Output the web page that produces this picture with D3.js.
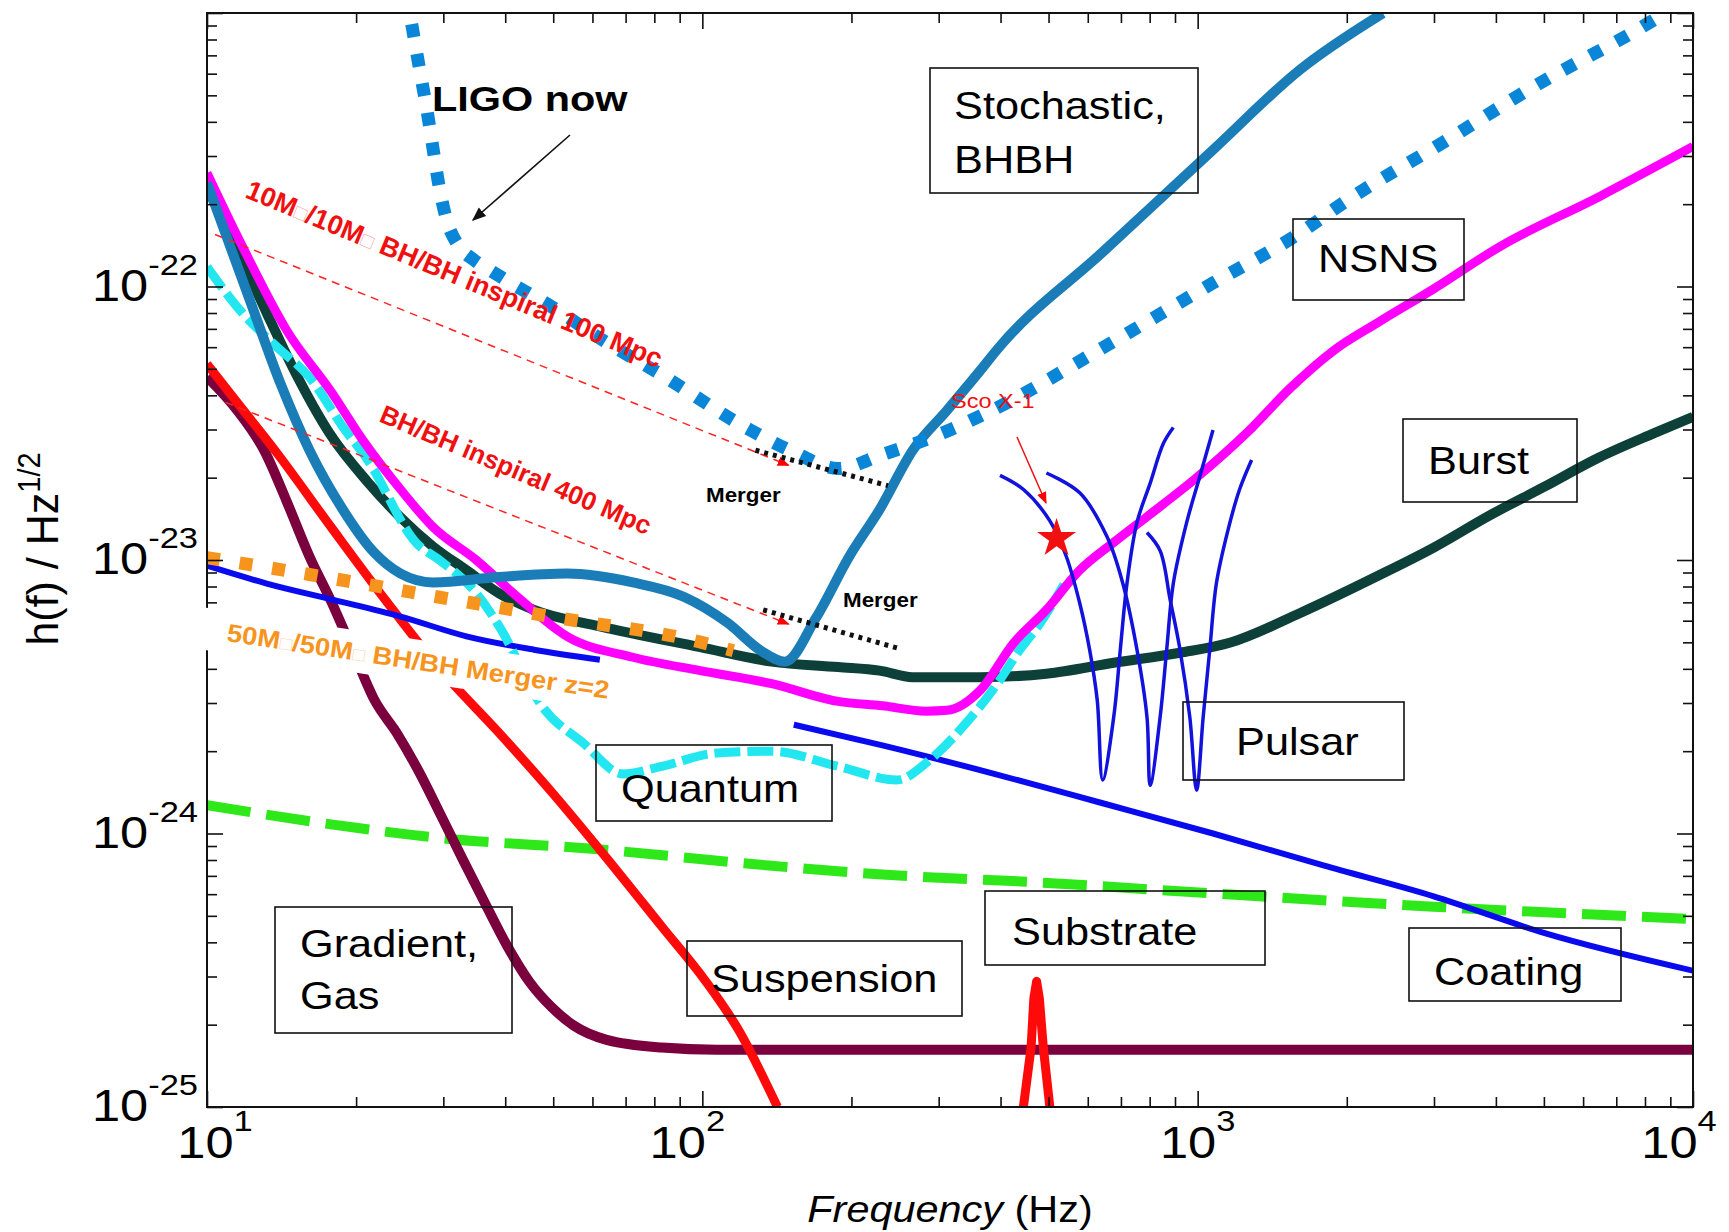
<!DOCTYPE html>
<html><head><meta charset="utf-8">
<script src="https://cdn.jsdelivr.net/npm/d3@7"></script>
<style>body{margin:0;background:#fff}svg{display:block}text{font-family:"Liberation Sans",Arial,sans-serif}</style>
</head><body><svg id="c" width="1729" height="1232"></svg>
<script>
// ---------------- DATA (frequency in Hz, strain in 1/sqrt(Hz)) ----------------
const ligoNow = [[25.9,9.1e-22],[26.8,6.39e-22],[27.8,4.42e-22],[28.6,3.19e-22],[29.5,2.26e-22],[30.5,1.74e-22],[32.1,1.42e-22],[34.6,1.25e-22],[37.2,1.15e-22],[41.4,1.02e-22],[47.1,8.93e-23],[53.3,7.77e-23],[59.3,6.82e-23],[82.8,4.75e-23],[124.8,2.99e-23],[153,2.48e-23],[188,2.16e-23],[231,2.43e-23],[298,2.86e-23],[385,3.53e-23],[644,5.98e-23],[1074,1.03e-22],[1610,1.57e-22],[1967,2.02e-22],[3186,3.43e-22],[4753,5.36e-22],[7925,8.93e-22],[8790,1e-21]];
const stochasticBHBH = [[10,2.39e-22],[12.2,8.93e-23],[14.05,4.45e-23],[16.1,2.52e-23],[18.8,1.53e-23],[21.6,1.08e-23],[24.6,8.92e-24],[28.6,8.28e-24],[38.9,8.67e-24],[53.3,8.92e-24],[72.4,8.28e-24],[91.7,7.34e-24],[112.6,5.88e-24],[131.3,4.66e-24],[146.9,4.25e-24],[169.7,6.15e-24],[198,1.03e-23],[228,1.53e-23],[266,2.52e-23],[312,3.53e-23],[364,4.93e-23],[394,5.89e-23],[644,1.34e-22],[1074,3.16e-22],[1610,6.21e-22],[2366,9.98e-22]];
const nsns = [[10,2.6e-22],[11.68,1.45e-22],[14.5,6.89e-23],[17.8,4.13e-23],[20.7,2.72e-23],[24.6,1.81e-23],[28.6,1.32e-23],[35,9.98e-24],[42.3,7.34e-24],[53.3,5.26e-24],[72.4,4.41e-24],[99,3.94e-24],[138,3.53e-24],[188,3.04e-24],[231,2.93e-24],[283,2.8e-24],[312,2.82e-24],[364,3.34e-24],[425,4.97e-24],[495,6.57e-24],[578,9.18e-24],[677,1.16e-23],[790,1.44e-23],[995,2.0e-23],[1260,2.93e-23],[1538,4.25e-23],[1879,5.82e-23],[2319,7.41e-23],[2996,9.8e-23],[4076,1.4e-22],[6497,2.14e-22],[10000,3.25e-22]];
const burst = [[10,2.3e-22],[11.5,1.38e-22],[13.2,8.0e-23],[15.3,4.6e-23],[17.8,2.85e-23],[21.1,1.93e-23],[24.6,1.43e-23],[28.6,1.12e-23],[33.4,9.18e-24],[38.9,7.55e-24],[45.7,6.57e-24],[62.1,5.72e-24],[99,4.8e-24],[138,4.25e-24],[188,4.06e-24],[228,3.94e-24],[266,3.73e-24],[364,3.73e-24],[495,3.84e-24],[677,4.21e-24],[921,4.58e-24],[1160,4.98e-24],[1611,6.4e-24],[2318,8.77e-24],[2996,1.11e-23],[3871,1.45e-23],[5002,1.85e-23],[6462,2.37e-23],[8350,2.91e-23],[10000,3.34e-23]];
const quantum = [[10,1.18e-22],[11.8,7.98e-23],[13.8,6.04e-23],[16.1,4.66e-23],[18.8,3.07e-23],[21.1,2.32e-23],[26.5,1.15e-23],[29.5,9.98e-24],[35,7.55e-24],[38.9,5.72e-24],[47.6,2.9e-24],[57.5,2.14e-24],[69.2,1.65e-24],[82.8,1.76e-24],[107,1.97e-24],[138,2.0e-24],[188,1.76e-24],[247,1.57e-24],[288,1.86e-24],[336,2.46e-24],[394,3.53e-24],[438,4.71e-24],[481,5.88e-24],[537,8.14e-24]];
const suspension = [[10,5.21e-23],[11.5,3.77e-23],[13.8,2.48e-23],[17.8,1.32e-23],[23,7.08e-24],[29.7,3.94e-24],[38.4,2.39e-24],[49.6,1.42e-24],[64.1,8.13e-25],[82.8,4.57e-25],[101.6,2.88e-25],[118.6,1.9e-25],[141.8,1.0e-25]];
const violinMode = [[444.8,1e-25],[461,1.65e-25],[467,2.5e-25],[473,2.88e-25],[479,2.5e-25],[488,1.65e-25],[503,1e-25]];
const gradientGas = [[10,4.67e-23],[11.5,3.53e-23],[13.1,2.48e-23],[14.5,1.63e-23],[16.1,1.03e-23],[17.8,7.08e-24],[19.7,4.66e-24],[21.8,3.07e-24],[24.2,2.32e-24],[26.8,1.68e-24],[29.7,1.16e-24],[32.9,7.98e-25],[36.5,5.51e-25],[40.4,3.87e-25],[44.7,2.88e-25],[49.6,2.32e-25],[54.9,1.99e-25],[64.1,1.76e-25],[82.8,1.65e-25],[107,1.62e-25],[10000,1.62e-25]];
const coatingLow = [[10,9.53e-24],[13.2,8.2e-24],[18,7.15e-24],[24.6,6.21e-24],[33.4,5.26e-24],[45.7,4.7e-24],[62.1,4.32e-24]];
const coatingHigh = [[153,2.5e-24],[231,2.1e-24],[385,1.66e-24],[643,1.29e-24],[1074,1.0e-24],[1794,7.64e-25],[2996,5.89e-25],[5000,4.33e-25],[10000,3.15e-25]];
const substrate = [[10,1.27e-24],[17.8,1.08e-24],[29.7,9.62e-25],[60.8,8.77e-25],[138,7.62e-25],[231,7.08e-25],[473,6.63e-25],[1074,6.04e-25],[2996,5.4e-25],[10000,4.87e-25]];
const mergerZ2 = [[10,1.02e-23],[16.1,8.85e-24],[29.1,7.34e-24],[52.5,6.1e-24],[94.6,5.11e-24],[115.5,4.66e-24]];
const inspiral100 = [[10.38,1.55e-22],[149.3,2.22e-23]];
const inspiral400 = [[10.9,3.77e-23],[149.3,5.83e-24]];
const merger100 = [[128,2.52e-23],[237,1.87e-23]];
const merger400 = [[132.7,6.57e-24],[249,4.75e-24]];
const pulsar1 = [[399,2.04e-23],[445,1.81e-23],[503,1.39e-23],[543,1.03e-23],[578,6.95e-24],[605,4.71e-24],[627,3.07e-24],[643,1.57e-24],[677,2.67e-24],[698,4.71e-24],[720,8.22e-24],[754,1.37e-23],[802,1.91e-23],[853,2.67e-23],[893,3.05e-23]];
const pulsar2 = [[495,2.08e-23],[578,1.76e-23],[657,1.21e-23],[706,8.22e-24],[754,4.71e-24],[790,2.67e-24],[802,1.5e-24],[840,2.67e-24],[866,4.71e-24],[893,8.22e-24],[950,1.37e-23],[1010,2.02e-23],[1074,2.99e-23]];
const pulsar3 = [[790,1.26e-23],[840,1.08e-23],[880,7.15e-24],[921,4.71e-24],[964,2.67e-24],[995,1.44e-24],[1026,2.67e-24],[1058,4.71e-24],[1091,8.22e-24],[1148,1.26e-23],[1215,1.81e-23],[1285,2.32e-23]];
const scoX1 = [519, 1.2e-23];
const xMajor = [10, 100, 1000, 10000];
const xExp = ["1", "2", "3", "4"];
const yMajor = [1e-25, 1e-24, 1e-23, 1e-22];
const yExp = ["-25", "-24", "-23", "-22"];

// ---------------- LAYOUT ----------------
const L = 207, R = 1693, T = 13, B = 1107;
const svg = d3.select('#c');
const x = d3.scaleLog().domain([10, 1e4]).range([L, R]);
const y = d3.scaleLog().domain([1e-25, 1e-21]).range([B, T]);

const defs = svg.append('defs');
defs.append('clipPath').attr('id', 'plotclip').append('rect')
  .attr('x', L).attr('y', T).attr('width', R - L).attr('height', B - T);
function arrowMarker(id, color, size) {
  defs.append('marker').attr('id', id).attr('viewBox', '0 0 10 10').attr('refX', 9).attr('refY', 5)
    .attr('markerWidth', size).attr('markerHeight', size).attr('orient', 'auto-start-reverse')
    .attr('markerUnits', 'userSpaceOnUse')
    .append('path').attr('d', 'M0,1 L10,5 L0,9 z').attr('fill', color);
}
arrowMarker('arrK', '#111', 14);
arrowMarker('arrR', '#f00', 12);

const line = d3.line().x(d => x(d[0])).y(d => y(d[1])).curve(d3.curveMonotoneX);
const lineLin = d3.line().x(d => x(d[0])).y(d => y(d[1]));
const plot = svg.append('g').attr('clip-path', 'url(#plotclip)');

function curve(data, color, width, dash, gen, cap) {
  return plot.append('path').datum(data).attr('d', gen || line)
    .attr('fill', 'none').attr('stroke', color).attr('stroke-width', width)
    .attr('stroke-dasharray', dash || null).attr('stroke-linecap', cap || 'butt')
    .attr('stroke-linejoin', 'round');
}

function txt(sel, px, py, opts) {
  return sel.append('text')
    .attr('transform', `translate(${px},${py}) rotate(${opts.rot || 0}) scale(${opts.sx || 1},${opts.sy || 1})`)
    .attr('font-size', opts.size).attr('font-weight', opts.weight || 'normal')
    .attr('fill', opts.fill || '#000').attr('text-anchor', opts.anchor || 'start');
}

// ---------------- AXES (inward ticks on all four sides) ----------------
const xTicks = [], yTicks = [];
for (let e = 1; e <= 4; e++) for (let k = 1; k <= 9; k++) { const v = k * Math.pow(10, e); if (v <= 1e4) xTicks.push(v); }
for (let e = -25; e <= -21; e++) for (let k = 1; k <= 9; k++) { const v = k * Math.pow(10, e); if (v <= 1.0001e-21) yTicks.push(v); }
const isMajor = v => Math.abs(Math.log10(v) - Math.round(Math.log10(v))) < 1e-6;

function styleAxis(g, majorLen, sign, vert) {
  g.select('.domain').remove();
  g.selectAll('.tick line').attr('stroke', '#111').attr('stroke-width', 1.6)
    .each(function (d) { const len = isMajor(d) ? majorLen : 10; d3.select(this).attr(vert ? 'x2' : 'y2', sign * len); });
}
styleAxis(svg.append('g').attr('transform', `translate(0,${B})`).call(d3.axisBottom(x).tickValues(xTicks).tickSize(-10).tickFormat('')), 16, -1, false);
styleAxis(svg.append('g').attr('transform', `translate(0,${T})`).call(d3.axisTop(x).tickValues(xTicks).tickSize(-10).tickFormat('')), 16, 1, false);
styleAxis(svg.append('g').attr('transform', `translate(${L},0)`).call(d3.axisLeft(y).tickValues(yTicks).tickSize(-10).tickFormat('')), 16, 1, true);
styleAxis(svg.append('g').attr('transform', `translate(${R},0)`).call(d3.axisRight(y).tickValues(yTicks).tickSize(-10).tickFormat('')), 16, -1, true);

// tick labels
const xLabelShift = [8, -15, 0, -14];
xMajor.forEach((v, i) => {
  const t = txt(svg, x(v) + xLabelShift[i], 1158, { size: 44, anchor: 'middle', sx: 1.15 });
  t.append('tspan').text('10');
  t.append('tspan').attr('font-size', 30).attr('dy', -27).text(xExp[i]);
});
yMajor.forEach((v, i) => {
  const t = txt(svg, 198, y(v) + 14, { size: 44, anchor: 'end', sx: 1.15 });
  t.append('tspan').text('10');
  t.append('tspan').attr('font-size', 30).attr('dy', -26).text(yExp[i]);
});
// axis titles
{
  const t = txt(svg, 950, 1222, { size: 37, anchor: 'middle', sx: 1.12 });
  t.append('tspan').attr('style', 'font-style:italic').text('Frequency');
  t.append('tspan').text(' (Hz)');
  const ty = txt(svg, 58, 549, { size: 43, anchor: 'middle', rot: -90, sy: 1.05 });
  ty.append('tspan').text('h(f) / Hz');
  ty.append('tspan').attr('font-size', 29).attr('dy', -17).text('1/2');
}

// ---------------- CURVES ----------------
curve(substrate, '#2ee81a', 10, '44,16');
curve(gradientGas, '#7a003e', 10);
curve(suspension, '#ff0a0a', 9);
curve(violinMode, '#ff0a0a', 9, null, lineLin);
curve(burst, '#0d4038', 10);
curve(coatingLow, '#0a0aee', 6);
curve(coatingHigh, '#0a0aee', 6);
curve(quantum, '#22e6f0', 9, '26,7');
curve(nsns, '#ff00ff', 9);
curve(stochasticBHBH, '#1b7db8', 10);

// inspiral reference lines
[inspiral100, inspiral400].forEach(d => plot.append('path').datum(d).attr('d', lineLin).attr('fill', 'none')
  .attr('stroke', '#f22').attr('stroke-width', 1.5).attr('stroke-dasharray', '8,6').attr('marker-end', 'url(#arrR)'));

// inspiral labels (drawn under the LIGO dotted curve)
function sunLabel(sel, px, py, rot, color, size, parts, sx) {
  const t = txt(sel, px, py, { size, weight: 'bold', fill: color, rot, sx: sx || 1 });
  parts.forEach(p => {
    if (p === '□') t.append('tspan').attr('font-size', size * 0.75).attr('font-weight', 'normal').attr('fill-opacity', 0.35).text('□');
    else t.append('tspan').text(p);
  });
  return t;
}
sunLabel(svg, 244, 197, 22.5, '#f01010', 27, ['10M', '□', '/10M', '□', ' BH/BH inspiral 100 Mpc']);
sunLabel(svg, 378, 421, 23, '#f01010', 26, ['BH/BH inspiral 400 Mpc']);

// Sco X-1 label (under dotted curve)
txt(svg, 951, 408, { size: 21, fill: '#f01010', sx: 1.12 }).text('Sco X-1');

curve(ligoNow, '#0a86d8', 13, '13,17');
curve(merger100, '#111', 5, '4,5');
curve(merger400, '#111', 5, '4,5');
curve(mergerZ2, '#f7941e', 13, '13,20');

// pulsars
const pulsarLine = d3.line().x(d => x(d[0])).y(d => y(d[1])).curve(d3.curveCatmullRom.alpha(0.5));
[pulsar1, pulsar2, pulsar3].forEach(p => curve(p, '#1212dc', 3.5, null, pulsarLine));

// Sco X-1 star and arrow
svg.append('path').attr('d', d3.symbol(d3.symbolStar).size(470)())
  .attr('transform', `translate(${x(scoX1[0])},${y(scoX1[1])})`).attr('fill', '#f01010');
svg.append('line').attr('x1', 1017).attr('y1', 437).attr('x2', 1046).attr('y2', 503)
  .attr('stroke', '#f01010').attr('stroke-width', 1.5).attr('marker-end', 'url(#arrR)');

// frame
svg.append('rect').attr('x', L).attr('y', T).attr('width', R - L).attr('height', B - T)
  .attr('fill', 'none').attr('stroke', '#111').attr('stroke-width', 2);

// 50M label with white background (covers curves and axis)
{
  const g = svg.append('g').attr('transform', 'translate(226,641) rotate(8.6)');
  const bg = g.append('rect').attr('fill', '#fff');
  const t = sunLabel(g, 0, 0, 0, '#f7941e', 25, ['50M', '□', '/50M', '□', ' BH/BH Merger z=2'], 1.1);
  const len = t.node().getComputedTextLength() * 1.1;
  bg.attr('x', -26).attr('y', -30).attr('width', len + 34).attr('height', 42);
}

// Merger labels
txt(svg, 706, 502, { size: 20, weight: 'bold', sx: 1.12 }).text('Merger');
txt(svg, 843, 607, { size: 20, weight: 'bold', sx: 1.12 }).text('Merger');

// LIGO now label + arrow
txt(svg, 432, 111, { size: 36, weight: 'bold', sx: 1.15 }).text('LIGO now');
svg.append('line').attr('x1', 570).attr('y1', 135).attr('x2', 473).attr('y2', 220)
  .attr('stroke', '#111').attr('stroke-width', 1.6).attr('marker-end', 'url(#arrK)');

// boxed labels
function box(bx, by, bw, bh, lines, tx, ty, lh) {
  svg.append('rect').attr('x', bx).attr('y', by).attr('width', bw).attr('height', bh)
    .attr('fill', 'none').attr('stroke', '#111').attr('stroke-width', 1.6);
  lines.forEach((s, i) => txt(svg, tx, ty + i * (lh || 0), { size: 38, sx: 1.14 }).text(s));
}
box(930, 68, 268, 125, ['Stochastic,', 'BHBH'], 954, 119, 54);
box(1293, 219, 171, 81, ['NSNS'], 1318, 272);
box(1403, 419, 174, 83, ['Burst'], 1428, 474);
box(1183, 702, 221, 78, ['Pulsar'], 1236, 755);
box(596, 745, 236, 76, ['Quantum'], 621, 802);
box(275, 907, 237, 126, ['Gradient,', 'Gas'], 300, 957, 52);
box(687, 941, 275, 75, ['Suspension'], 711, 992);
box(985, 891, 280, 74, ['Substrate'], 1012, 945);
box(1409, 928, 212, 73, ['Coating'], 1434, 985);
</script></body></html>
